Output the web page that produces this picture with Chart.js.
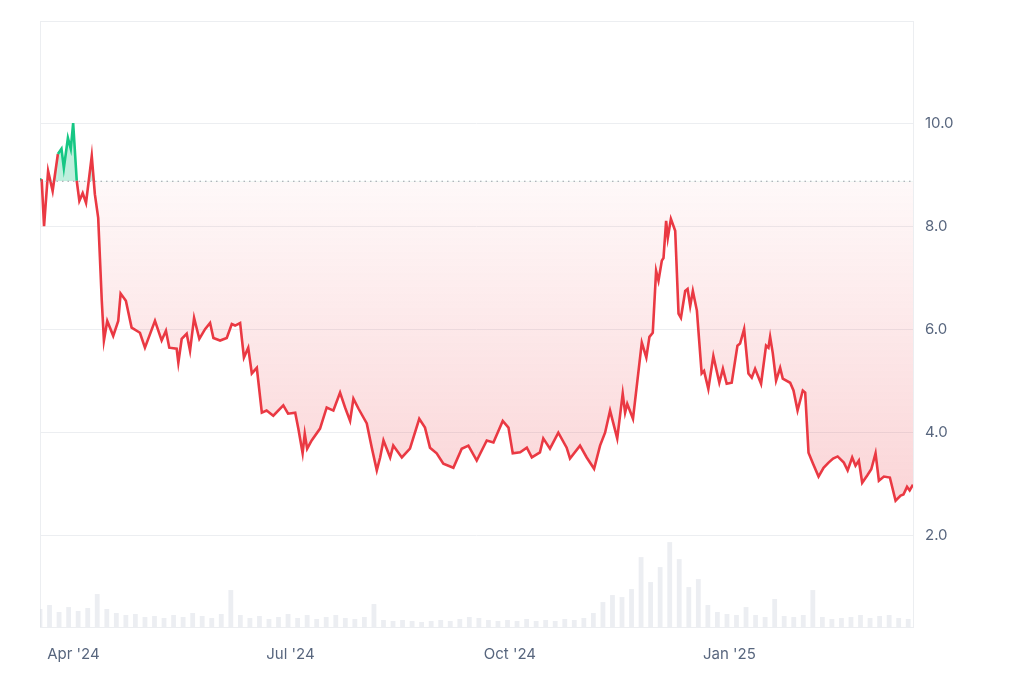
<!DOCTYPE html>
<html>
<head>
<meta charset="utf-8">
<script src="https://cdn.jsdelivr.net/npm/chart.js@4/dist/chart.umd.min.js"></script>
<style>
  html, body { margin: 0; padding: 0; background: #fff; }
  #wrap { width: 1024px; height: 683px; }
</style>
</head>
<body>
<div id="wrap"><canvas id="chart" width="1024" height="683"></canvas></div>
<script>
// Price data: day offset from 18 Mar 2024, value
const priceDays = [0, 0.7, 1.7, 3.4, 5.3, 7.5, 9, 10, 11.7, 12.9, 13.9, 15.4, 16.5, 17.9, 19.3, 21.7, 23, 24.4, 25.9, 26.8, 28.2, 30.7, 32.8, 33.8, 36, 38.4, 41.9, 44, 48.2, 51, 52.8, 54.2, 57.3, 58, 59.4, 61.5, 62.9, 64.6, 66.8, 69.2, 71.3, 72.7, 75.5, 78.3, 80.4, 81.8, 83.9, 85.5, 87.3, 88.8, 90.9, 93, 95, 97.8, 102, 104, 107, 108.3, 110.1, 111, 112, 113.9, 117.4, 120.2, 123, 125.8, 127.9, 130, 131.4, 133.5, 137, 139.1, 141.2, 142.6, 144, 146.8, 148.1, 151.7, 155.1, 159, 161.4, 163.5, 166.3, 169.1, 173.3, 176.8, 179.6, 183.1, 187.3, 190.1, 194, 196.4, 198.2, 201.3, 204.1, 206.2, 209.6, 211, 213.8, 217.3, 220.8, 222.2, 226.4, 229.2, 232.3, 234.8, 236.9, 239, 242, 244.3, 245.3, 246.2, 248.6, 252.3, 254.2, 255.5, 256.9, 258.3, 259.3, 260.7, 261.4, 262.5, 263.2, 264.5, 266.3, 267.7, 268.7, 270.5, 271.5, 272.6, 273.7, 275.4, 277.4, 278.4, 280.2, 282.3, 284.8, 286.3, 287.9, 290, 292.4, 293.5, 295.2, 297, 298.4, 299.8, 302.3, 304.4, 305.4, 306.1, 307.2, 308.6, 310.3, 311.4, 314.5, 315.9, 317.6, 319.8, 320.8, 322.2, 324.1, 326.4, 328.5, 330.6, 332.5, 334.4, 337, 338.6, 340.5, 341.9, 343.3, 344.7, 346.8, 348.5, 350.3, 351.7, 353.8, 356.3, 358.7, 360.8, 362, 363.5, 364.6, 366];
const prices = [8.9, 8.91, 8.0, 9.07, 8.68, 9.4, 9.5, 9.13, 9.71, 9.5, 10.0, 8.88, 8.49, 8.64, 8.45, 9.36, 8.62, 8.16, 6.55, 5.78, 6.16, 5.87, 6.16, 6.69, 6.55, 6.03, 5.93, 5.64, 6.16, 5.78, 5.97, 5.64, 5.62, 5.35, 5.81, 5.91, 5.58, 6.22, 5.81, 6.0, 6.12, 5.83, 5.78, 5.83, 6.1, 6.07, 6.12, 5.45, 5.64, 5.14, 5.25, 4.38, 4.42, 4.32, 4.52, 4.36, 4.38, 4.07, 3.59, 3.97, 3.68, 3.84, 4.07, 4.48, 4.42, 4.77, 4.48, 4.22, 4.65, 4.46, 4.17, 3.7, 3.26, 3.51, 3.84, 3.51, 3.74, 3.51, 3.68, 4.26, 4.09, 3.7, 3.59, 3.39, 3.31, 3.68, 3.74, 3.45, 3.84, 3.8, 4.22, 4.09, 3.59, 3.61, 3.7, 3.51, 3.61, 3.88, 3.68, 3.99, 3.7, 3.49, 3.74, 3.51, 3.29, 3.74, 3.99, 4.42, 3.88, 4.75, 4.38, 4.55, 4.26, 5.74, 5.45, 5.85, 5.93, 7.13, 6.94, 7.33, 7.38, 8.1, 7.77, 8.14, 7.91, 6.3, 6.22, 6.74, 6.78, 6.45, 6.74, 6.36, 5.14, 5.19, 4.84, 5.48, 4.96, 5.23, 4.94, 4.96, 5.68, 5.72, 6.0, 5.14, 5.06, 5.23, 4.94, 5.68, 5.64, 5.85, 5.54, 5.0, 5.25, 5.04, 4.96, 4.81, 4.42, 4.81, 4.77, 3.6, 3.39, 3.14, 3.31, 3.41, 3.49, 3.53, 3.41, 3.26, 3.51, 3.35, 3.45, 3.02, 3.16, 3.28, 3.59, 3.06, 3.14, 3.12, 2.67, 2.77, 2.79, 2.94, 2.87, 2.98];
const baseline = 8.87;

// Volume, one bar every 4 days
const volDays = Array.from({ length: 92 }, (_, i) => i * 4);
const volumes = [18, 22, 15, 20, 16, 19, 33, 18, 14, 12, 13, 10, 11, 9, 12, 10, 14, 11, 9, 13, 37, 12, 9, 11, 8, 10, 13, 9, 12, 8, 10, 12, 9, 8, 10, 23, 7, 6, 7, 6, 5, 6, 7, 6, 8, 10, 9, 7, 6, 7, 6, 8, 6, 7, 6, 8, 7, 9, 14, 25, 32, 30, 38, 70, 45, 60, 85, 68, 40, 48, 22, 15, 13, 12, 20, 12, 10, 28, 11, 10, 12, 37, 10, 8, 9, 10, 12, 9, 11, 12, 9, 8];

// x ticks (day offsets) and their labels
const tickDays = [14, 105, 197, 289];
const tickLabels = ["Apr '24", "Jul '24", "Oct '24", "Jan '25"];
const yTicks = [2, 4, 6, 8, 10];

const RED = '#ea3943';
const GREEN = '#16c784';

const ctx = document.getElementById('chart').getContext('2d');
const redFill = ctx.createLinearGradient(0, 178, 0, 627);
redFill.addColorStop(0, 'rgba(234,57,67,0.03)');
redFill.addColorStop(0.75, 'rgba(234,57,67,0.22)');
redFill.addColorStop(1, 'rgba(234,57,67,0.30)');

const baselinePlugin = {
  id: 'baseline',
  afterDatasetsDraw(chart) {
    const y = chart.scales.y.getPixelForValue(baseline);
    const { left, right } = chart.chartArea;
    const c = chart.ctx;
    c.save();
    c.strokeStyle = '#9aa0a8';
    c.lineWidth = 1.2;
    c.setLineDash([1.5, 4]);
    c.beginPath();
    c.moveTo(left, y);
    c.lineTo(right, y);
    c.stroke();
    c.restore();
  }
};

new Chart(ctx, {
  data: {
    datasets: [
      {
        type: 'line',
        data: priceDays.map((d, i) => ({ x: d, y: prices[i] })),
        yAxisID: 'y',
        borderColor: RED,
        borderWidth: 2.6,
        pointRadius: 0,
        tension: 0,
        segment: {
          borderColor: s => (s.p0.parsed.y >= baseline && s.p1.parsed.y >= baseline) ? GREEN : RED
        },
        fill: { target: { value: baseline }, above: 'rgba(22,199,132,0.28)', below: redFill },
        order: 0
      },
      {
        type: 'bar',
        data: volDays.map((d, i) => ({ x: d, y: volumes[i] })),
        yAxisID: 'vol',
        backgroundColor: 'rgba(218,222,230,0.5)',
        barPercentage: 0.5,
        categoryPercentage: 1,
        order: 1
      }
    ]
  },
  options: {
    responsive: false,
    animation: false,
    layout: { padding: { left: 40, top: 5, right: 0, bottom: 0 } },
    plugins: { legend: { display: false }, tooltip: { enabled: false } },
    scales: {
      x: {
        type: 'linear',
        offset: false,
        min: 0,
        max: 366,
        afterBuildTicks: s => { s.ticks = tickDays.map(v => ({ value: v })); },
        afterFit: s => { s.height = 56; },
        grid: { display: false, drawTicks: false },
        border: { display: true, color: '#eceef1' },
        ticks: {
          color: '#58667e',
          font: { family: 'Inter', size: 15 },
          padding: 18,
          maxRotation: 0,
          callback: v => tickLabels[tickDays.indexOf(v)]
        }
      },
      y: {
        position: 'right',
        min: 0.22,
        max: 11.98,
        afterBuildTicks: s => { s.ticks = yTicks.map(v => ({ value: v })); },
        afterFit: s => { s.width = 111; },
        grid: { color: '#eceef1', drawTicks: false },
        border: { display: true, color: '#eceef1' },
        ticks: {
          color: '#58667e',
          font: { family: 'Inter', size: 15 },
          padding: 12,
          callback: v => v.toFixed(1)
        }
      },
      vol: {
        display: false,
        min: 0,
        max: 607
      }
    }
  },
  plugins: [baselinePlugin, {
    id: 'frame',
    beforeDatasetsDraw(chart) {
      const { left, top, right, bottom } = chart.chartArea;
      const c = chart.ctx;
      c.save();
      c.strokeStyle = '#eceef1';
      c.lineWidth = 1;
      c.strokeRect(left + 0.5, top + 0.5, right - left, bottom - top);
      c.restore();
    }
  }]
});
</script>
</body>
</html>
